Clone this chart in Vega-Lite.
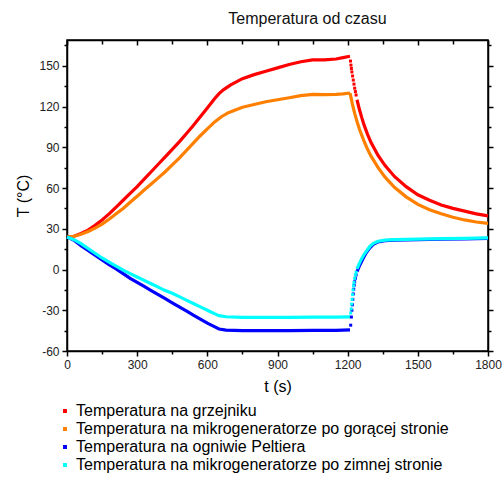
{
  "$schema": "https://vega.github.io/schema/vega-lite/v6.json",
  "width": 421,
  "height": 311,
  "autosize": {"type": "none"},
  "padding": {"left": 67, "top": 40, "right": 15, "bottom": 126},
  "background": "white",
  "config": {"view": {"stroke": "#000", "strokeWidth": 1.5}, "font": "Liberation Sans"},
  "title": {"text": "Temperatura od czasu", "fontSize": 16, "font": "Liberation Sans", "fontWeight": "normal", "color": "#111", "anchor": "middle", "dx": 30, "offset": 12},
  "data": {"values": [
    {"k":"R","t":0,"T":24},{"k":"R","t":30,"T":24.5},{"k":"R","t":60,"T":26.5},{"k":"R","t":90,"T":29},{"k":"R","t":120,"T":32.5},{"k":"R","t":150,"T":36.5},{"k":"R","t":180,"T":41},{"k":"R","t":210,"T":46},{"k":"R","t":240,"T":51},{"k":"R","t":270,"T":56},{"k":"R","t":300,"T":61},{"k":"R","t":330,"T":66.5},{"k":"R","t":360,"T":72},{"k":"R","t":390,"T":77.5},{"k":"R","t":420,"T":83},{"k":"R","t":450,"T":88.5},{"k":"R","t":480,"T":94},{"k":"R","t":510,"T":100},{"k":"R","t":540,"T":106},{"k":"R","t":570,"T":112.5},{"k":"R","t":600,"T":119},{"k":"R","t":630,"T":125.5},{"k":"R","t":650,"T":129.5},{"k":"R","t":670,"T":132.5},{"k":"R","t":700,"T":136},{"k":"R","t":750,"T":140.5},{"k":"R","t":800,"T":143.5},{"k":"R","t":850,"T":146},{"k":"R","t":900,"T":148.5},{"k":"R","t":950,"T":151},{"k":"R","t":1000,"T":153},{"k":"R","t":1050,"T":154.3},{"k":"R","t":1100,"T":154.3},{"k":"R","t":1150,"T":155},{"k":"R","t":1180,"T":156},{"k":"R","t":1210,"T":157},
    {"k":"R","t":1212,"T":153.5},{"k":"R","t":1214,"T":150.5},{"k":"R","t":1216,"T":148},{"k":"R","t":1218,"T":145.5},{"k":"R","t":1221,"T":142.5},{"k":"R","t":1224,"T":139.5},{"k":"R","t":1227,"T":136.5},{"k":"R","t":1230,"T":133.5},{"k":"R","t":1233,"T":131},{"k":"R","t":1236,"T":128.5},
    {"k":"R","t":1240,"T":125},{"k":"R","t":1250,"T":118},{"k":"R","t":1260,"T":112},{"k":"R","t":1270,"T":106.5},{"k":"R","t":1285,"T":99.5},{"k":"R","t":1300,"T":93.5},{"k":"R","t":1330,"T":84},{"k":"R","t":1360,"T":76.5},{"k":"R","t":1400,"T":68.5},{"k":"R","t":1450,"T":61},{"k":"R","t":1500,"T":55},{"k":"R","t":1550,"T":51},{"k":"R","t":1600,"T":47.5},{"k":"R","t":1650,"T":45},{"k":"R","t":1700,"T":43},{"k":"R","t":1750,"T":41},{"k":"R","t":1800,"T":39.5},

    {"k":"O","t":0,"T":24},{"k":"O","t":30,"T":24.5},{"k":"O","t":60,"T":26},{"k":"O","t":90,"T":28},{"k":"O","t":120,"T":30.5},{"k":"O","t":150,"T":33.5},{"k":"O","t":180,"T":37},{"k":"O","t":210,"T":41},{"k":"O","t":240,"T":45},{"k":"O","t":270,"T":49.5},{"k":"O","t":300,"T":54},{"k":"O","t":330,"T":58.5},{"k":"O","t":360,"T":63},{"k":"O","t":390,"T":67.5},{"k":"O","t":420,"T":72},{"k":"O","t":450,"T":77},{"k":"O","t":480,"T":82},{"k":"O","t":510,"T":87.5},{"k":"O","t":540,"T":93},{"k":"O","t":570,"T":98.5},{"k":"O","t":600,"T":103.5},{"k":"O","t":630,"T":108.5},{"k":"O","t":660,"T":112.5},{"k":"O","t":690,"T":115.5},{"k":"O","t":720,"T":117.5},{"k":"O","t":750,"T":119.5},{"k":"O","t":800,"T":121.5},{"k":"O","t":850,"T":123.5},{"k":"O","t":900,"T":125},{"k":"O","t":950,"T":126.5},{"k":"O","t":1000,"T":128},{"k":"O","t":1050,"T":129},{"k":"O","t":1100,"T":128.8},{"k":"O","t":1150,"T":129},{"k":"O","t":1180,"T":129.3},{"k":"O","t":1210,"T":130},
    {"k":"O","t":1215,"T":126},{"k":"O","t":1220,"T":122},{"k":"O","t":1225,"T":118.5},{"k":"O","t":1230,"T":115},{"k":"O","t":1235,"T":112},{"k":"O","t":1240,"T":109},{"k":"O","t":1250,"T":103.5},{"k":"O","t":1260,"T":99},{"k":"O","t":1270,"T":94.5},{"k":"O","t":1285,"T":88.5},{"k":"O","t":1300,"T":83.5},{"k":"O","t":1330,"T":75},{"k":"O","t":1360,"T":68},{"k":"O","t":1400,"T":60.5},{"k":"O","t":1450,"T":53.5},{"k":"O","t":1500,"T":48},{"k":"O","t":1550,"T":44},{"k":"O","t":1600,"T":41},{"k":"O","t":1650,"T":38.5},{"k":"O","t":1700,"T":36.5},{"k":"O","t":1750,"T":35},{"k":"O","t":1800,"T":34},

    {"k":"B","t":0,"T":24},{"k":"B","t":30,"T":21.5},{"k":"B","t":60,"T":17.5},{"k":"B","t":90,"T":14},{"k":"B","t":120,"T":10.5},{"k":"B","t":150,"T":7},{"k":"B","t":180,"T":3.5},{"k":"B","t":210,"T":0.5},{"k":"B","t":240,"T":-3},{"k":"B","t":270,"T":-6.5},{"k":"B","t":300,"T":-9.5},{"k":"B","t":330,"T":-12.5},{"k":"B","t":360,"T":-15.5},{"k":"B","t":390,"T":-18.5},{"k":"B","t":420,"T":-21.5},{"k":"B","t":450,"T":-24.5},{"k":"B","t":480,"T":-27.5},{"k":"B","t":510,"T":-30.5},{"k":"B","t":540,"T":-33.5},{"k":"B","t":570,"T":-36.5},{"k":"B","t":600,"T":-39.5},{"k":"B","t":630,"T":-42},{"k":"B","t":650,"T":-43.8},{"k":"B","t":680,"T":-44.6},{"k":"B","t":750,"T":-45},{"k":"B","t":850,"T":-45},{"k":"B","t":950,"T":-45},{"k":"B","t":1050,"T":-44.8},{"k":"B","t":1150,"T":-44.8},{"k":"B","t":1210,"T":-44.5},
    {"k":"B","t":1213,"T":-41},{"k":"B","t":1216,"T":-35},{"k":"B","t":1218,"T":-30},{"k":"B","t":1220,"T":-26},{"k":"B","t":1222,"T":-22},{"k":"B","t":1224,"T":-18},{"k":"B","t":1226,"T":-14.5},{"k":"B","t":1228,"T":-11.5},{"k":"B","t":1230,"T":-9},{"k":"B","t":1233,"T":-6.5},{"k":"B","t":1236,"T":-4},
    {"k":"B","t":1240,"T":-1.5},{"k":"B","t":1250,"T":2.5},{"k":"B","t":1260,"T":6},{"k":"B","t":1270,"T":9.5},{"k":"B","t":1280,"T":12.5},{"k":"B","t":1295,"T":16},{"k":"B","t":1310,"T":18.5},{"k":"B","t":1330,"T":20.3},{"k":"B","t":1360,"T":21.2},{"k":"B","t":1400,"T":21.6},{"k":"B","t":1500,"T":22},{"k":"B","t":1600,"T":22.3},{"k":"B","t":1700,"T":22.6},{"k":"B","t":1800,"T":23},

    {"k":"C","t":0,"T":24},{"k":"C","t":30,"T":22},{"k":"C","t":60,"T":19},{"k":"C","t":90,"T":15.5},{"k":"C","t":120,"T":12},{"k":"C","t":150,"T":8.5},{"k":"C","t":180,"T":5.5},{"k":"C","t":210,"T":2.5},{"k":"C","t":240,"T":-0.5},{"k":"C","t":270,"T":-3},{"k":"C","t":300,"T":-5.5},{"k":"C","t":330,"T":-8},{"k":"C","t":360,"T":-10.5},{"k":"C","t":390,"T":-13},{"k":"C","t":420,"T":-15.5},{"k":"C","t":450,"T":-17.5},{"k":"C","t":480,"T":-20},{"k":"C","t":510,"T":-22.5},{"k":"C","t":540,"T":-25},{"k":"C","t":570,"T":-27.5},{"k":"C","t":600,"T":-30},{"k":"C","t":630,"T":-32.5},{"k":"C","t":650,"T":-34},{"k":"C","t":680,"T":-34.8},{"k":"C","t":750,"T":-35.2},{"k":"C","t":850,"T":-35.3},{"k":"C","t":950,"T":-35.2},{"k":"C","t":1050,"T":-35.1},{"k":"C","t":1150,"T":-35},{"k":"C","t":1210,"T":-34.8},
    {"k":"C","t":1213,"T":-32},{"k":"C","t":1215,"T":-29},{"k":"C","t":1217,"T":-25.5},{"k":"C","t":1219,"T":-22},{"k":"C","t":1221,"T":-18.5},{"k":"C","t":1223,"T":-15},{"k":"C","t":1225,"T":-12},{"k":"C","t":1227,"T":-9.5},{"k":"C","t":1230,"T":-6.5},{"k":"C","t":1233,"T":-4},{"k":"C","t":1236,"T":-2},
    {"k":"C","t":1240,"T":0.5},{"k":"C","t":1250,"T":4.5},{"k":"C","t":1260,"T":8},{"k":"C","t":1270,"T":11},{"k":"C","t":1280,"T":13.5},{"k":"C","t":1295,"T":17},{"k":"C","t":1310,"T":19.3},{"k":"C","t":1330,"T":20.8},{"k":"C","t":1360,"T":21.6},{"k":"C","t":1400,"T":22},{"k":"C","t":1500,"T":22.4},{"k":"C","t":1600,"T":22.7},{"k":"C","t":1700,"T":23},{"k":"C","t":1800,"T":23.3}
  ]},
  "resolve": {"axis": {"x": "independent", "y": "independent"}},
  "layer": [
    {
      "transform": [{"filter": "datum.t <= 1210"}],
      "mark": {"type": "line", "strokeWidth": 3.2},
      "encoding": {
        "x": {"field": "t", "type": "quantitative", "scale": {"domain": [0, 1800], "nice": false, "zero": false},
          "axis": {"orient": "bottom", "values": [0,150,300,450,600,750,900,1050,1200,1350,1500,1650,1800],
            "labelExpr": "datum.value % 300 === 0 ? '' + datum.value : ''",
            "tickSize": {"condition": {"test": "datum.value % 300 === 0", "value": 5}, "value": 3},
            "grid": false, "domain": true, "domainColor": "#000", "domainWidth": 1.5, "tickColor": "#000", "tickWidth": 1.5,
            "labelFontSize": 12, "labelFont": "Liberation Sans", "labelColor": "#222", "labelPadding": 3, "labelOverlap": false, "labelFlush": false,
            "title": "t (s)", "titleFontSize": 16, "titleFont": "Liberation Sans", "titleFontWeight": "normal", "titleColor": "#000", "titlePadding": 8}},
        "y": {"field": "T", "type": "quantitative", "scale": {"domain": [-60, 169], "nice": false, "zero": false},
          "axis": {"orient": "left", "values": [-60,-45,-30,-15,0,15,30,45,60,75,90,105,120,135,150,165],
            "labelExpr": "datum.value % 30 === 0 ? '' + datum.value : ''",
            "tickSize": {"condition": {"test": "datum.value % 30 === 0", "value": 5}, "value": 3},
            "grid": false, "domain": true, "domainColor": "#000", "domainWidth": 1.5, "tickColor": "#000", "tickWidth": 1.5,
            "labelFontSize": 12, "labelFont": "Liberation Sans", "labelColor": "#222", "labelPadding": 3, "labelOverlap": false, "labelFlush": false,
            "title": "T (°C)", "titleFontSize": 16, "titleFont": "Liberation Sans", "titleFontWeight": "normal", "titleColor": "#000", "titlePadding": 7}},
        "color": {"field": "k", "type": "nominal",
          "scale": {"domain": ["R","O","B","C"], "range": ["#ff0000","#ff8000","#0000ff","#00ffff"]},
          "legend": {"orient": "none", "legendX": -10, "legendY": 363, "title": null, "direction": "vertical",
            "symbolType": "square", "symbolSize": 6, "symbolStrokeWidth": 1.5, "symbolFillColor": null,
            "labelFontSize": 16, "labelFont": "Liberation Sans", "labelColor": "#000", "labelLimit": 0, "labelOffset": 3, "rowPadding": 2, "padding": 0,
            "labelExpr": "{'R': 'Temperatura na grzejniku', 'O': 'Temperatura na mikrogeneratorze po gorącej stronie', 'B': 'Temperatura na ogniwie Peltiera', 'C': 'Temperatura na mikrogeneratorze po zimnej stronie'}[datum.label]"}}
      }
    },
    {
      "transform": [{"filter": "datum.t >= 1240 || (datum.k == 'O' && datum.t >= 1210)"}],
      "mark": {"type": "line", "strokeWidth": 3.2},
      "encoding": {
        "x": {"field": "t", "type": "quantitative",
          "axis": {"orient": "top", "values": [0,150,300,450,600,750,900,1050,1200,1350,1500,1650,1800], "labels": false, "title": null,
            "tickSize": {"condition": {"test": "datum.value % 300 === 0", "value": -5}, "value": -4},
            "grid": false, "domain": true, "domainColor": "#000", "domainWidth": 1.5, "tickColor": "#000", "tickWidth": 1.5}},
        "y": {"field": "T", "type": "quantitative",
          "axis": {"orient": "right", "values": [-60,-45,-30,-15,0,15,30,45,60,75,90,105,120,135,150,165], "labels": false, "title": null,
            "tickSize": {"condition": {"test": "datum.value % 30 === 0", "value": 5}, "value": 3},
            "grid": false, "domain": true, "domainColor": "#000", "domainWidth": 1.5, "tickColor": "#000", "tickWidth": 1.5}},
        "color": {"field": "k", "type": "nominal"}
      }
    },
    {
      "transform": [{"filter": "datum.t > 1210 && datum.t < 1240 && datum.k != 'O'"}],
      "mark": {"type": "square", "size": 9, "opacity": 1, "filled": true},
      "encoding": {
        "x": {"field": "t", "type": "quantitative", "axis": null},
        "y": {"field": "T", "type": "quantitative", "axis": null},
        "color": {"field": "k", "type": "nominal"}
      }
    }
  ]
}
